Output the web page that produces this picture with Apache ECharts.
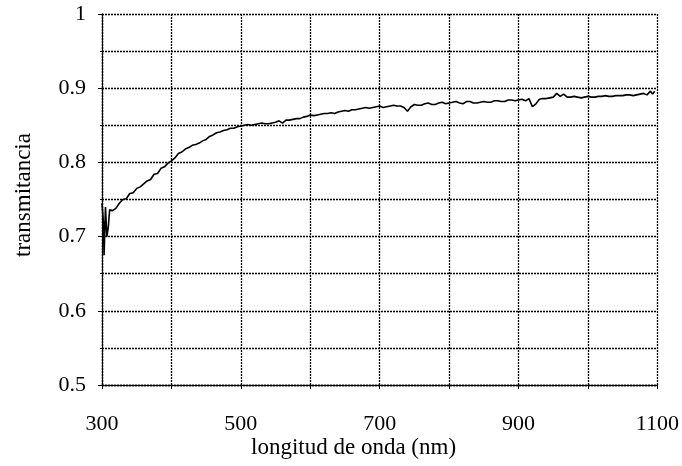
<!DOCTYPE html>
<html>
<head>
<meta charset="utf-8">
<script src="https://cdn.jsdelivr.net/npm/echarts@6/dist/echarts.min.js"></script>
<style>
html,body{margin:0;padding:0;background:#fff;}
#c{width:682px;height:466px;}
</style>
</head>
<body>
<div id="c"></div>
<script>
var wavelength = [300,302,303,305,307,309,311,315,320,325,330,335,340,345,350,355,360,365,370,375,380,385,390,395,400,405,410,415,420,425,430,435,440,445,450,455,460,465,470,475,480,485,490,495,500,505,510,515,520,525,530,535,540,545,550,555,560,565,570,575,580,585,590,595,600,605,610,615,620,625,630,635,640,645,650,655,660,665,670,675,680,685,690,695,700,705,710,715,720,725,730,735,740,745,750,755,760,765,770,775,780,785,790,795,800,805,810,815,820,825,830,835,840,845,850,855,860,865,870,875,880,885,890,895,900,905,910,915,920,925,930,935,940,945,950,955,960,965,970,975,980,985,990,995,1000,1005,1010,1015,1020,1025,1030,1035,1040,1045,1050,1055,1060,1065,1070,1075,1080,1085,1090,1093,1096];
var transmittance = [0.745,0.72,0.675,0.74,0.70,0.712,0.736,0.735,0.738,0.745,0.750,0.751,0.758,0.759,0.765,0.767,0.771,0.775,0.777,0.784,0.785,0.792,0.794,0.799,0.802,0.806,0.812,0.814,0.818,0.820,0.823,0.824,0.826,0.829,0.831,0.835,0.837,0.840,0.841,0.843,0.844,0.846,0.846,0.848,0.849,0.850,0.851,0.850,0.851,0.852,0.853,0.852,0.852,0.853,0.854,0.856,0.853,0.857,0.857,0.858,0.859,0.859,0.861,0.862,0.864,0.863,0.864,0.865,0.866,0.866,0.867,0.866,0.868,0.869,0.870,0.869,0.871,0.871,0.872,0.873,0.874,0.873,0.874,0.875,0.876,0.874,0.875,0.876,0.877,0.876,0.876,0.874,0.869,0.875,0.878,0.877,0.877,0.879,0.880,0.878,0.878,0.880,0.881,0.879,0.880,0.881,0.882,0.880,0.879,0.882,0.882,0.880,0.880,0.881,0.882,0.881,0.881,0.883,0.883,0.882,0.882,0.884,0.884,0.883,0.884,0.885,0.883,0.886,0.875,0.879,0.885,0.886,0.886,0.887,0.888,0.893,0.889,0.892,0.888,0.888,0.889,0.888,0.887,0.888,0.889,0.888,0.888,0.889,0.889,0.890,0.889,0.889,0.890,0.890,0.890,0.891,0.891,0.890,0.891,0.892,0.893,0.891,0.896,0.892,0.896];
var xTickLabels = ['300','500','700','900','1100'];
var yTickLabels = ['0.5','0.6','0.7','0.8','0.9','1'];
var xTitle = 'longitud de onda (nm)';
var yTitle = 'transmitancia';

var FONT = '"Liberation Serif", "Times New Roman", serif';
var dotted = {color:'#000', width:1.3, type:[2,1]};
var pts = wavelength.map(function(w,i){return [w, transmittance[i]];});

var chart = echarts.init(document.getElementById('c'), null, {renderer:'canvas'});
chart.setOption({
  animation:false,
  backgroundColor:'#fff',
  grid:{left:102, right:24, top:14, bottom:81, containLabel:false},
  xAxis:{
    type:'value', min:300, max:1100, interval:200,
    axisLine:{show:true, lineStyle:dotted},
    axisTick:{show:true, length:4, lineStyle:{color:'#000', width:1}},
    minorTick:{show:true, splitNumber:2, length:4, lineStyle:{color:'#000', width:1}},
    splitLine:{show:true, lineStyle:dotted},
    minorSplitLine:{show:true, lineStyle:dotted},
    axisLabel:{margin:28, color:'#000', fontFamily:FONT, fontSize:22,
      formatter:function(v){var i=Math.round((v-300)/200); return xTickLabels[i]||'';}}
  },
  yAxis:{
    type:'value', min:0.5, max:1, interval:0.1,
    axisLine:{show:true, lineStyle:dotted},
    axisTick:{show:true, length:4, lineStyle:{color:'#000', width:1}},
    minorTick:{show:true, splitNumber:2, length:2, lineStyle:{color:'#000', width:1}},
    splitLine:{show:true, lineStyle:dotted},
    minorSplitLine:{show:true, lineStyle:dotted},
    axisLabel:{margin:16, color:'#000', fontFamily:FONT, fontSize:22,
      formatter:function(v){var i=Math.round((v-0.5)/0.1); return yTickLabels[i]||'';}}
  },
  graphic:[
    {type:'text', left:251, top:436, style:{text:xTitle, font:'23px '+FONT, fill:'#000'}},
    {type:'text', x:24, y:195, rotation:Math.PI/2, style:{text:yTitle, font:'23px '+FONT, fill:'#000', align:'center', verticalAlign:'middle'}}
  ],
  series:[{
    type:'line', data:pts, showSymbol:false, symbol:'none',
    lineStyle:{color:'#000', width:1.6}, silent:true
  }]
});
</script>
</body>
</html>
